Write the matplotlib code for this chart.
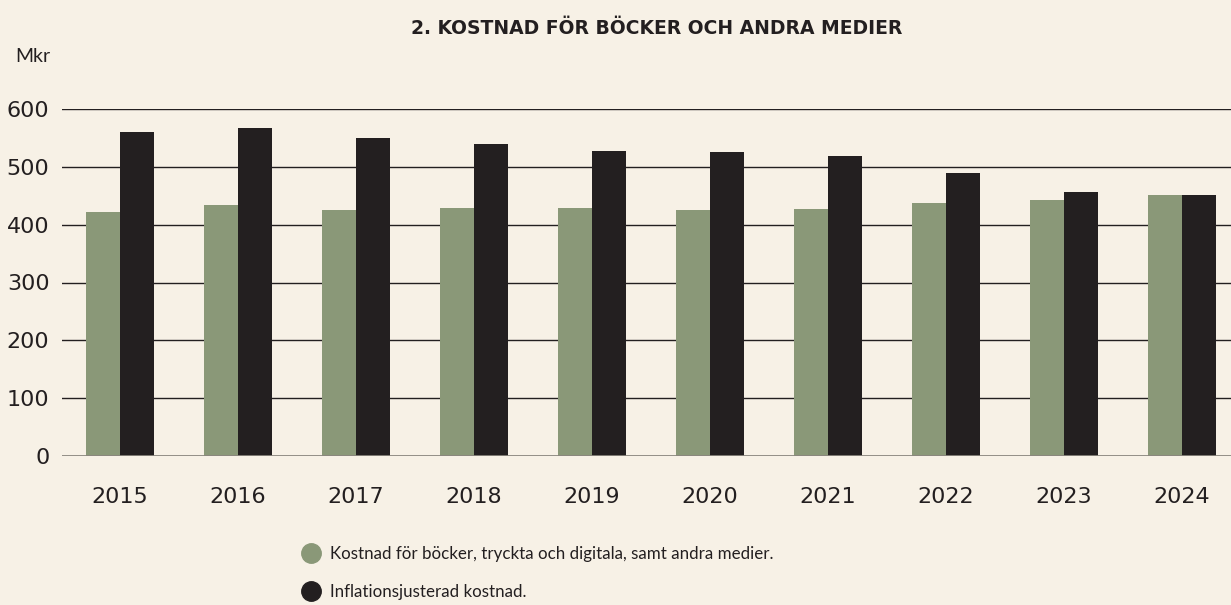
"""Bar chart: kostnad för böcker och andra medier, 2015-2024."""

import matplotlib

matplotlib.use("Agg")
import matplotlib.pyplot as plt
import numpy as np
from matplotlib.lines import Line2D

YEARS = ["2015", "2016", "2017", "2018", "2019", "2020", "2021", "2022", "2023", "2024"]
KOSTNAD = [422, 434, 426, 429, 429, 426, 427, 438, 443, 452]
INFLATIONSJUSTERAD = [560, 567, 550, 540, 528, 526, 519, 490, 457, 452]
Y_TICKS = [0, 100, 200, 300, 400, 500, 600]

LABEL_KOSTNAD = "Kostnad för böcker, tryckta och digitala, samt andra medier."
LABEL_INFLATION = "Inflationsjusterad kostnad."
TITLE = "2. KOSTNAD FÖR BÖCKER OCH ANDRA MEDIER"

BACKGROUND = "#f7f1e6"
GREEN = "#8a9878"
DARK = "#231f20"

plt.rcParams["font.family"] = ["Lato", "DejaVu Sans"]


def main() -> None:
    fig = plt.figure(figsize=(12.31, 6.05), dpi=100, facecolor=BACKGROUND)
    ax = fig.add_axes([62 / 1231, 1 - 456 / 605, 1 - 62 / 1231, (456 - 109) / 605])
    ax.set_facecolor(BACKGROUND)

    x = np.arange(len(YEARS))
    width = 0.29
    ax.bar(x - width / 2, KOSTNAD, width, color=GREEN, zorder=3)
    ax.bar(x + width / 2, INFLATIONSJUSTERAD, width, color=DARK, zorder=3)

    ax.set_ylim(0, 600)
    ax.set_xlim(-0.49, 9.415)
    ax.set_yticks(Y_TICKS)
    ax.set_xticks(x)
    ax.set_xticklabels(YEARS)
    ax.tick_params(axis="x", length=0, pad=22, labelsize=16, colors=DARK,
                   labelfontfamily="DejaVu Sans")
    ax.tick_params(axis="y", length=0, pad=9, labelsize=16, colors=DARK,
                   labelfontfamily="DejaVu Sans")

    for value in Y_TICKS[1:]:
        ax.axhline(value, color=DARK, linewidth=1.0, zorder=1)
    ax.axhline(0, color="#8a867e", linewidth=2.0, zorder=4)

    for spine in ax.spines.values():
        spine.set_visible(False)

    fig.text(657 / 1231, 1 - 28 / 605, TITLE, ha="center", va="center",
             fontsize=13.5, fontweight="bold", color=DARK, family="DejaVu Sans")
    fig.text(15 / 1231, 1 - 56 / 605, "Mkr", ha="left", va="center",
             fontsize=14, color=DARK)

    handles = [
        Line2D([], [], linestyle="none", marker="o", markersize=14,
               markerfacecolor=GREEN, markeredgecolor=GREEN),
        Line2D([], [], linestyle="none", marker="o", markersize=14,
               markerfacecolor=DARK, markeredgecolor=DARK),
    ]
    fig.legend(handles, [LABEL_KOSTNAD, LABEL_INFLATION], loc="center left",
               bbox_to_anchor=(294 / 1231, 1 - 573 / 605), frameon=False,
               fontsize=12.2, handlelength=1.0, handletextpad=0.6,
               labelspacing=1.3, labelcolor=DARK, borderpad=0)

    fig.savefig("out.png", dpi=100, facecolor=BACKGROUND)
    plt.close(fig)


if __name__ == "__main__":
    main()
